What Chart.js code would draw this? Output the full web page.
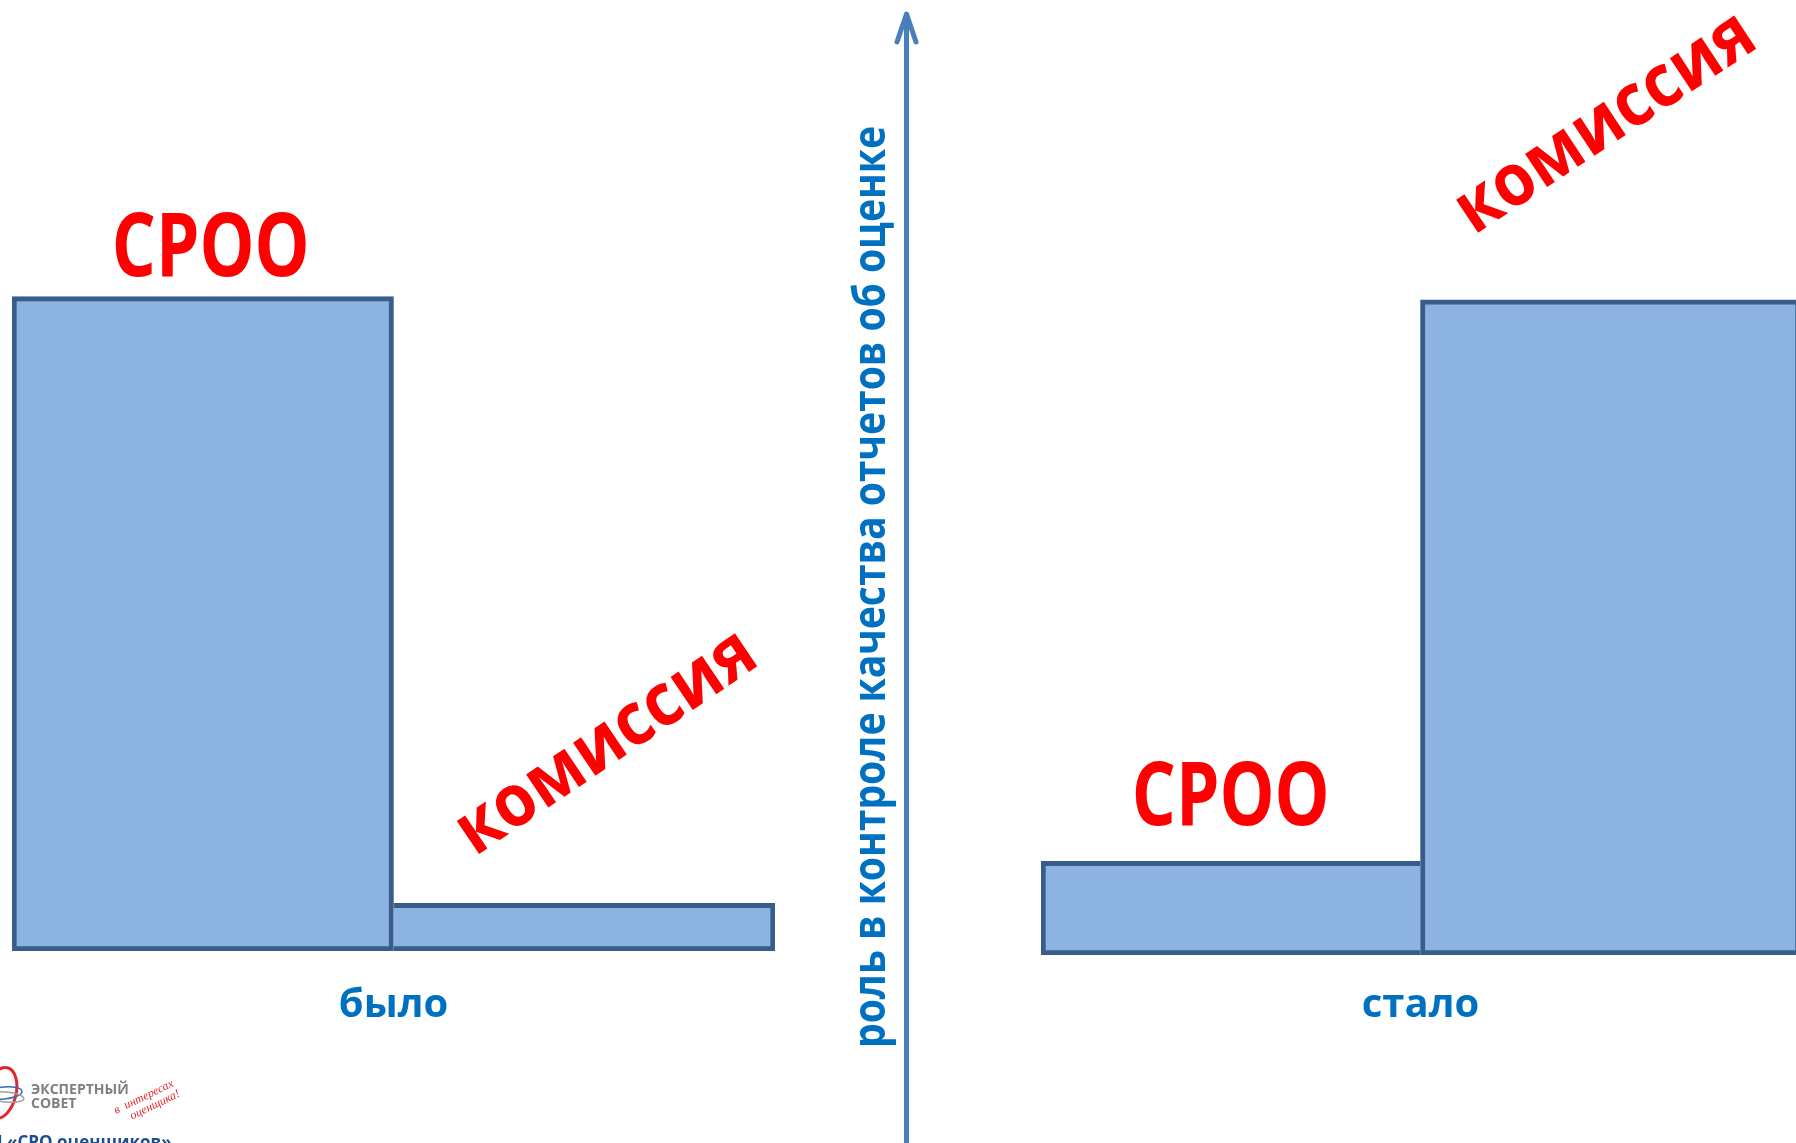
<!DOCTYPE html>
<html>
<head>
<meta charset="utf-8">
<script src="https://cdn.jsdelivr.net/npm/chart.js@4.4.0/dist/chart.umd.min.js"></script>
<style>
  html, body { margin: 0; padding: 0; background: #fff; overflow: hidden; }
  #wrap { position: relative; width: 1796px; height: 1143px; overflow: hidden; }
  canvas { position: absolute; top: 0; }
  #before { left: 0; }
  #after { left: 940px; }
</style>
</head>
<body>
<div id="wrap">
  <canvas id="before" width="940" height="1143"></canvas>
  <canvas id="after" width="880" height="1143"></canvas>
</div>
<script>
// data
const categories = ['СРОО', 'комиссия'];
const beforeValues = [72.7, 5.3];
const afterValues = [10.4, 72.8];
const periodLabels = ['было', 'стало'];
const roleTitle = 'роль в контроле качества отчетов об оценке';
const yMax = 100;

const FONT = '"Open Sans", "DejaVu Sans", sans-serif';
const RED = '#FF0000';
const BLUE_TEXT = '#0070C0';
const BAR_FILL = '#8DB3E2';
const BAR_EDGE = '#385D8A';
const ARROW = '#4A7EBB';

// draws the red name above each bar, squeezed to the width seen in the slide
const barNamePlugin = {
    id: 'barNames',
    afterDatasetsDraw: (chart, args, opts) => {
        const ctx = chart.ctx;
        const meta = chart.getDatasetMeta(0);
        meta.data.forEach((bar, i) => {
            const s = opts.styles[i];
            ctx.save();
            ctx.translate(bar.x + s.dx, bar.y + s.dy);
            ctx.rotate(s.angle * Math.PI / 180);
            ctx.font = `bold ${s.size}px ${FONT}`;
            const w = ctx.measureText(categories[i]).width;
            ctx.scale(s.width / w, 1);
            ctx.fillStyle = RED;
            ctx.textAlign = 'center';
            ctx.textBaseline = 'alphabetic';
            ctx.fillText(categories[i], 0, 0);
            ctx.restore();
        });
    }
};

// vertical arrow, its title and the logo in the corner
const decorPlugin = {
    id: 'decor',
    afterDraw: (chart) => {
        const ctx = chart.ctx;
        ctx.save();

        ctx.strokeStyle = ARROW;
        ctx.lineWidth = 5;
        ctx.lineCap = 'round';
        ctx.lineJoin = 'round';
        ctx.beginPath();
        ctx.moveTo(906.5, 1150);
        ctx.lineTo(906.5, 16);
        ctx.stroke();
        ctx.beginPath();
        ctx.moveTo(897, 42);
        ctx.lineTo(906.5, 14);
        ctx.lineTo(916, 42);
        ctx.stroke();

        ctx.save();
        ctx.translate(885, 587);
        ctx.rotate(-Math.PI / 2);
        ctx.font = `bold 44px ${FONT}`;
        const tw = ctx.measureText(roleTitle).width;
        ctx.scale(922 / tw, 1);
        ctx.fillStyle = BLUE_TEXT;
        ctx.textAlign = 'center';
        ctx.textBaseline = 'alphabetic';
        ctx.fillText(roleTitle, 0, 0);
        ctx.restore();

        // logo
        ctx.lineWidth = 3;
        ctx.strokeStyle = '#E3262A';
        ctx.beginPath();
        ctx.ellipse(1, 1093, 15, 26, 0.25, 0, Math.PI * 2);
        ctx.stroke();
        ctx.lineWidth = 1.5;
        ctx.strokeStyle = '#2F6FB5';
        ctx.beginPath();
        ctx.ellipse(4, 1093, 18, 6, -0.1, 0, Math.PI * 2);
        ctx.stroke();
        ctx.strokeStyle = '#A0A0A0';
        ctx.beginPath();
        ctx.ellipse(6, 1097, 18, 5, 0.1, 0, Math.PI * 2);
        ctx.stroke();

        ctx.fillStyle = '#7F7F7F';
        ctx.font = `bold 14px ${FONT}`;
        ctx.textAlign = 'left';
        ctx.fillText('ЭКСПЕРТНЫЙ', 31, 1094);
        ctx.fillText('СОВЕТ', 31, 1108);

        ctx.save();
        ctx.translate(116, 1114);
        ctx.rotate(-0.45);
        ctx.fillStyle = '#E3262A';
        ctx.font = 'italic 12px "Liberation Serif", serif';
        ctx.fillText('в  интересах', 0, 0);
        ctx.fillText('оценщика!', 12, 12);
        ctx.restore();

        ctx.fillStyle = '#1F4E8C';
        ctx.font = `bold 17px ${FONT}`;
        const lead = ctx.measureText('НП ').width;
        ctx.fillText('НП «СРО оценщиков»', 7 - lead, 1148);

        ctx.restore();
    }
};

function makeChart(id, values, period, pad, titlePad, names, decor) {
    const el = document.getElementById(id);
    return new Chart(el.getContext('2d'), {
        type: 'bar',
        data: {
            labels: categories,
            datasets: [{
                data: values,
                backgroundColor: BAR_FILL,
                borderColor: BAR_EDGE,
                borderSkipped: false,
                borderWidth: (c) => {
                    const bw = { top: 5, bottom: 5, left: 5, right: 5 };
                    // shared edge is drawn once, by the taller bar
                    const v = c.dataset.data;
                    if (c.dataIndex === 0 && v[0] < v[1]) bw.right = 0;
                    if (c.dataIndex === 1 && v[1] < v[0]) bw.left = 0;
                    return bw;
                },
                categoryPercentage: 1,
                barPercentage: 1
            }]
        },
        options: {
            responsive: false,
            animation: false,
            devicePixelRatio: 1,
            layout: { padding: pad },
            scales: {
                x: {
                    grid: { display: false, drawTicks: false },
                    border: { display: false },
                    ticks: { display: false },
                    title: {
                        display: true,
                        text: period,
                        color: BLUE_TEXT,
                        font: { family: FONT, size: 40, weight: 'bold', lineHeight: 1.2 },
                        padding: titlePad
                    }
                },
                y: {
                    display: false,
                    min: 0,
                    max: yMax
                }
            },
            plugins: {
                legend: { display: false },
                tooltip: { enabled: false },
                barNames: { styles: names }
            }
        },
        plugins: decor ? [barNamePlugin, decorPlugin] : [barNamePlugin]
    });
}

makeChart('before', beforeValues, periodLabels[0],
    { left: 12, right: 165, top: 51, bottom: 0 },
    { top: 30.5, bottom: 113.5 },
    [
        { dx: 8, dy: -21, angle: 0, size: 88, width: 198 },
        { dx: 34, dy: -143, angle: -34, size: 73, width: 346 }
    ],
    true);

makeChart('after', afterValues, periodLabels[1],
    { left: 101, right: 20, top: 55, bottom: 0 },
    { top: 26.5, bottom: 113.5 },
    [
        { dx: 0, dy: -36, angle: 0, size: 88, width: 198 },
        { dx: 7, dy: -159, angle: -33.5, size: 73, width: 344 }
    ],
    false);
</script>
</body>
</html>
